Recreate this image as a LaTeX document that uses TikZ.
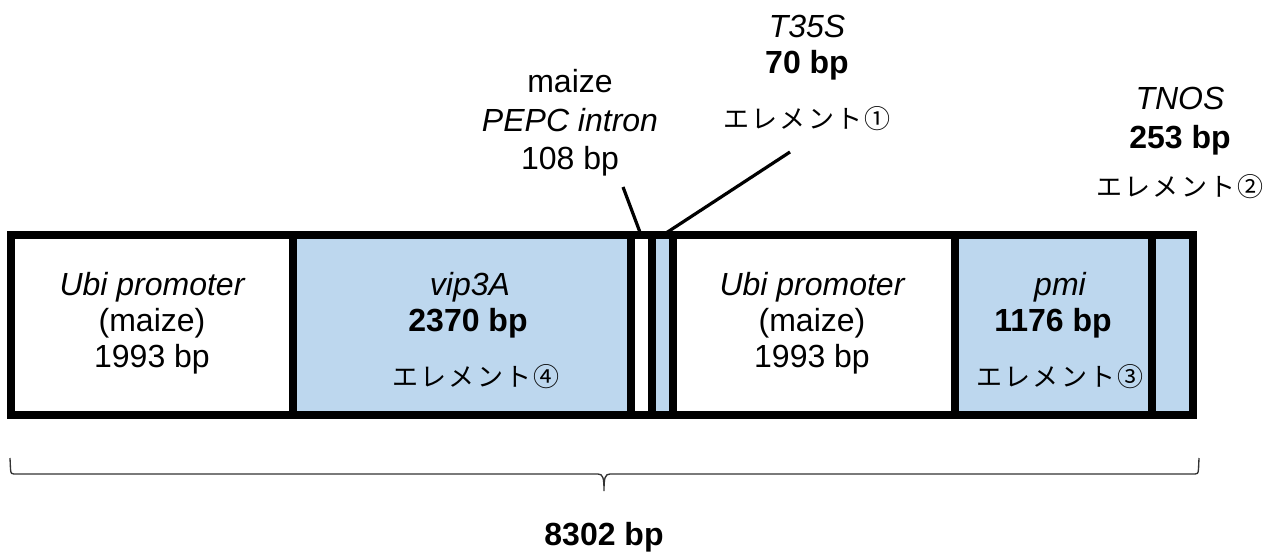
\documentclass[tikz,border=0pt]{standalone}
\usepackage{fontspec}
\setmainfont{Liberation Sans}
\newfontfamily\jpfont[LetterSpace=8]{Noto Sans CJK JP}
\definecolor{segblue}{HTML}{BDD7EE}
\tikzset{
  seg/.style={draw=black,line width=6pt},
  lbl/.style={anchor=base,inner sep=0pt,font=\fontsize{24}{27}\selectfont},
  jp/.style={anchor=base,inner sep=0pt,font=\jpfont\fontsize{19.5}{22}\selectfont},
  lead/.style={line width=2.4pt},
  span/.style={line width=1pt,black!80},
}

\begin{document}
\begin{tikzpicture}[x=0.75pt,y=-0.75pt]
\useasboundingbox (0,0) rectangle (1266,552);

% construct, left to right
\filldraw[seg,fill=white] (11,235) rectangle (293,415);
\filldraw[seg,fill=segblue] (293,235) rectangle (630.5,415);
\filldraw[seg,fill=white] (630.5,235) rectangle (652,415);
\filldraw[seg,fill=segblue] (652,235) rectangle (673,415);
\filldraw[seg,fill=white] (673,235) rectangle (955,415);
\filldraw[seg,fill=segblue] (955,235) rectangle (1152,415);
\filldraw[seg,fill=segblue] (1152,235) rectangle (1193,415);

\node[lbl] (ubiA-name) at (152,295) {\itshape Ubi promoter};
\node[lbl] (ubiA-src) at (152,331) {(maize)};
\node[lbl] (ubiA-len) at (152,367) {1993 bp};

\node[lbl] (vip-name) at (470,295) {\itshape vip3A};
\node[lbl] (vip-len) at (468,331) {\bfseries 2370 bp};
\node[jp] (vip-elem) at (476,386) {エレメント④};

\node[lbl] (ubiB-name) at (812,295) {\itshape Ubi promoter};
\node[lbl] (ubiB-src) at (812,331) {(maize)};
\node[lbl] (ubiB-len) at (812,367) {1993 bp};

\node[lbl] (pmi-name) at (1060,295) {\itshape pmi};
\node[lbl] (pmi-len) at (1053,331) {\bfseries 1176 bp};
\node[jp] (pmi-elem) at (1060,386) {エレメント③};

% labels above
\node[lbl] (pepc-src) at (570,93) {maize};
\node[lbl] (pepc-name) at (570,132) {\itshape PEPC intron};
\node[lbl] (pepc-len) at (570,170) {108 bp};

\node[lbl] (t35s-name) at (807,38) {\itshape T35S};
\node[lbl] (t35s-len) at (807,74) {\bfseries 70 bp};
\node[jp] (t35s-elem) at (807,129) {エレメント①};

\node[lbl] (tnos-name) at (1180,110) {\itshape TNOS};
\node[lbl] (tnos-len) at (1180,149) {\bfseries 253 bp};
\node[jp] (tnos-elem) at (1180,197) {エレメント②};

% leaders
\coordinate (pepc-foot) at (623,187);
\coordinate (pepc-top) at (641,235);
\draw[lead] (pepc-foot) -- (pepc-top);
\coordinate (t35s-foot) at (790,152);
\coordinate (t35s-top) at (663,235);
\draw[lead] (t35s-foot) -- (t35s-top);

% total length
\coordinate (span-left) at (10,458);
\coordinate (span-tip) at (604,491);
\coordinate (span-right) at (1199,458);
\draw[span] (span-left) -- (10.5,469) .. controls (11,474) .. (17,474)
  -- (598,474) .. controls (603,474) and (604,478) .. (span-tip)
  .. controls (604,478) and (605,474) .. (610,474)
  -- (1192,474) .. controls (1198,474) .. (1198.5,469) -- (span-right);
\node[lbl] (total) at (604,545) {\bfseries 8302 bp};
\end{tikzpicture}
\end{document}
